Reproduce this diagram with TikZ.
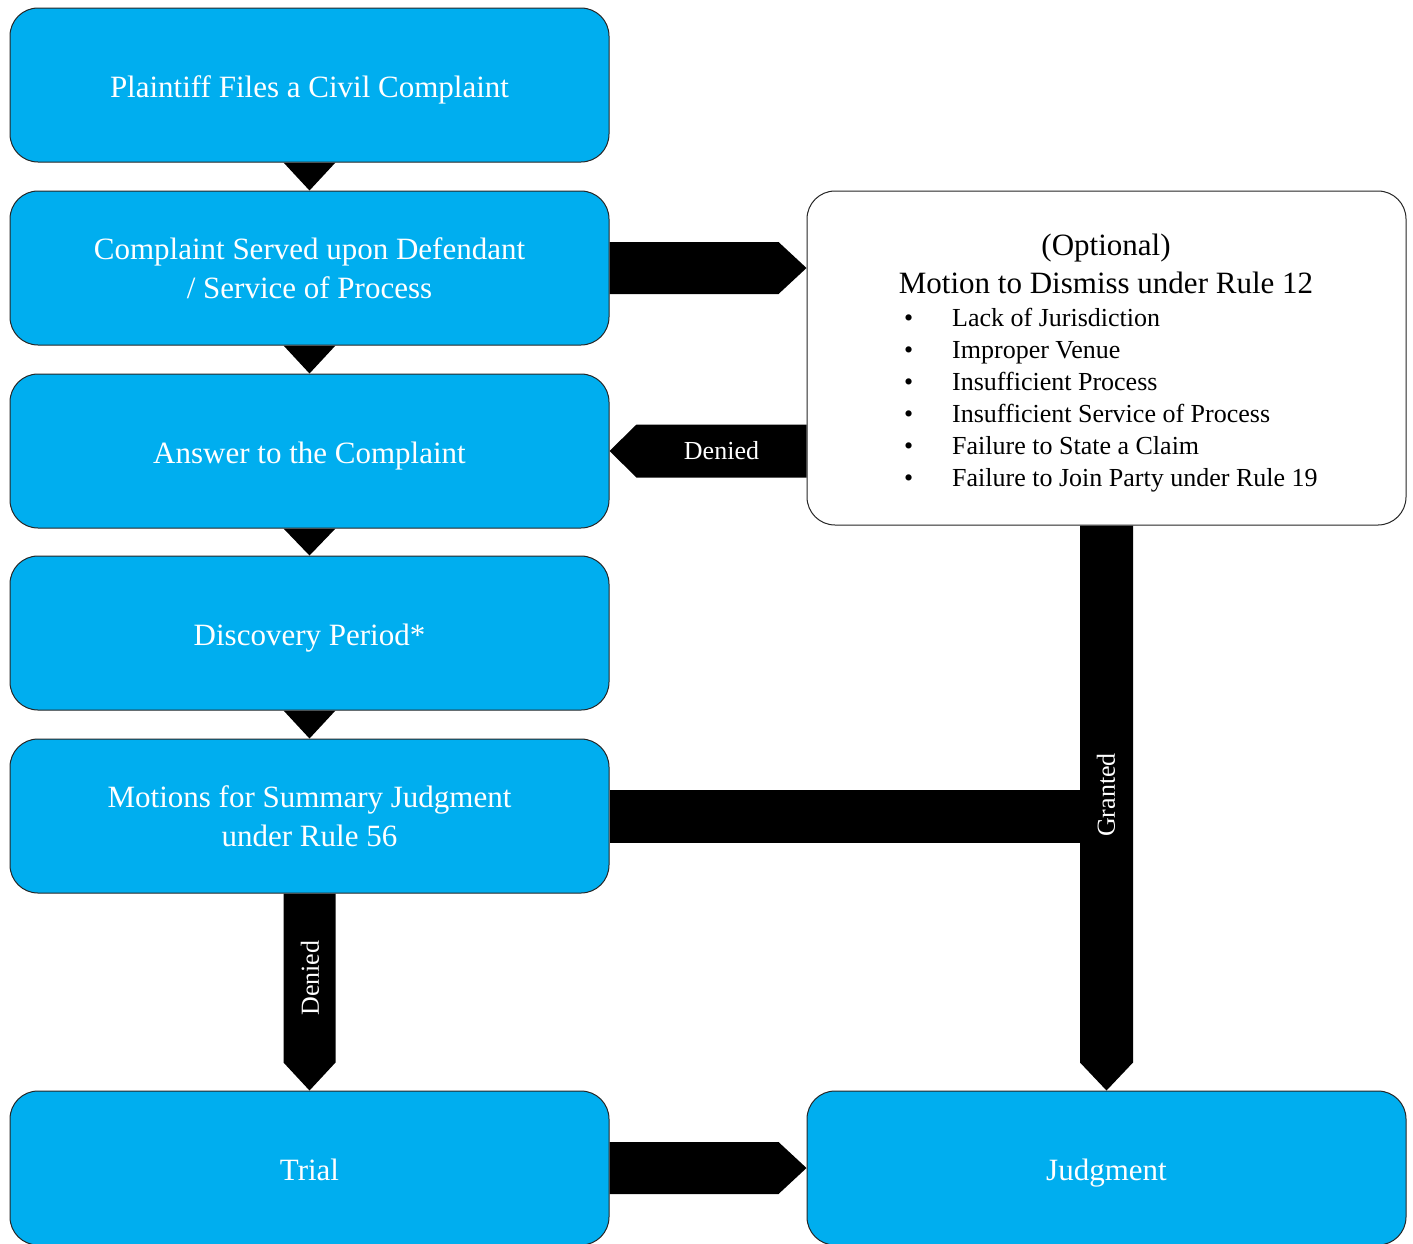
\documentclass[tikz,border=0pt]{standalone}
\usepackage{fontspec}
\setmainfont{Liberation Serif}
\usetikzlibrary{calc}
\definecolor{boxblue}{RGB}{0,174,239}
\pgfdeclarelayer{bg}
\pgfsetlayers{bg,main}
\begin{document}
\begin{tikzpicture}[x=1pt,y=-1pt,
  bluebox/.style={draw=black!85, line width=1pt, fill=boxblue, rounded corners=28pt,
    minimum width=599pt, minimum height=154pt, text=white,
    font=\fontsize{31}{39}\selectfont, align=center, inner sep=0pt},
  oneline/.style={text height=26pt, text depth=1.5pt},
  whitebox/.style={bluebox, fill=white, minimum height=334pt},
  arrowfill/.style={fill=black},
  lbl/.style={text=white, font=\fontsize{26}{30}\selectfont, inner sep=0pt},
  titletext/.style={text=black, font=\fontsize{31}{39}\selectfont, inner sep=0pt, anchor=base},
  bullettext/.style={text=black, font=\fontsize{26}{30}\selectfont, inner sep=0pt, anchor=base west},
]
\useasboundingbox (0,0) rectangle (1413,1243);

\node[bluebox, oneline] (b1) at (309.5,85) {Plaintiff Files a Civil Complaint};
\node[bluebox] (b2) at (309.5,268) {Complaint Served upon Defendant\\/ Service of Process};
\node[bluebox, oneline] (b3) at (309.5,451) {Answer to the Complaint};
\node[bluebox, oneline] (b4) at (309.5,633) {Discovery Period*};
\node[bluebox] (b5) at (309.5,816) {Motions for Summary Judgment\\under Rule 56};
\node[bluebox, oneline] (trial) at (309.5,1168) {Trial};
\node[bluebox, oneline] (judg) at (1106.5,1168) {Judgment};
\node[whitebox] (opt) at (1106.5,358) {};

\node[titletext] (t1) at (1106,255) {(Optional)};
\node[titletext] (t2) at (1106,293) {Motion to Dismiss under Rule 12};
\foreach \txt [count=\i] in {Lack of Jurisdiction, Improper Venue, Insufficient Process,
    Insufficient Service of Process, Failure to State a Claim, Failure to Join Party under Rule 19}{
  \node[bullettext] (bul\i) at (904,{326+32*(\i-1)}) {\textbullet};
  \node[bullettext] (bt\i) at (952,{326+32*(\i-1)}) {\txt};
}

\begin{pgfonlayer}{bg}
  % down triangles between consecutive boxes
  \foreach \a/\b in {b1/b2, b2/b3, b3/b4, b4/b5}{
    \fill[arrowfill] ($(\a.south)+(-26,0)$) -- ($(\a.south)+(26,0)$) -- (\b.north) -- cycle;
  }
  % b2 -> opt
  \coordinate (tipA) at (opt.west |- b2.east);
  \fill[arrowfill] ($(b2.east)+(0,-26)$) -- ($(tipA)+(-28,-26)$) -- (tipA)
     -- ($(tipA)+(-28,26)$) -- ($(b2.east)+(0,26)$) -- cycle;
  % opt -> b3 (Denied)
  \coordinate (startB) at (opt.west |- b3.east);
  \fill[arrowfill] ($(startB)+(0,-26.5)$) -- ($(b3.east)+(27,-26.5)$) -- (b3.east)
     -- ($(b3.east)+(27,26.5)$) -- ($(startB)+(0,26.5)$) -- cycle;
  % opt -> judg (Granted)
  \fill[arrowfill] ($(opt.south)+(-26.5,0)$) -- ($(judg.north)+(-26.5,-28)$) -- (judg.north)
     -- ($(judg.north)+(26.5,-28)$) -- ($(opt.south)+(26.5,0)$) -- cycle;
  % b5 -> granted shaft
  \coordinate (joinC) at (opt.south |- b5.east);
  \fill[arrowfill] ($(b5.east)+(0,-26.5)$) rectangle ($(joinC)+(0,26.5)$);
  % b5 -> trial (Denied)
  \fill[arrowfill] ($(b5.south)+(-26,0)$) -- ($(trial.north)+(-26,-28)$) -- (trial.north)
     -- ($(trial.north)+(26,-28)$) -- ($(b5.south)+(26,0)$) -- cycle;
  % trial -> judg
  \fill[arrowfill] ($(trial.east)+(0,-26)$) -- ($(judg.west)+(-28,-26)$) -- (judg.west)
     -- ($(judg.west)+(-28,26)$) -- ($(trial.east)+(0,26)$) -- cycle;
\end{pgfonlayer}

\node[lbl] (lblDen1) at ($(startB)!0.5!($(b3.east)+(27,0)$)$) {Denied};
\node[lbl, rotate=90] (lblGr) at (1106,795) {Granted};
\node[lbl, rotate=90] (lblDen2) at (310,978) {Denied};
\end{tikzpicture}
\end{document}
